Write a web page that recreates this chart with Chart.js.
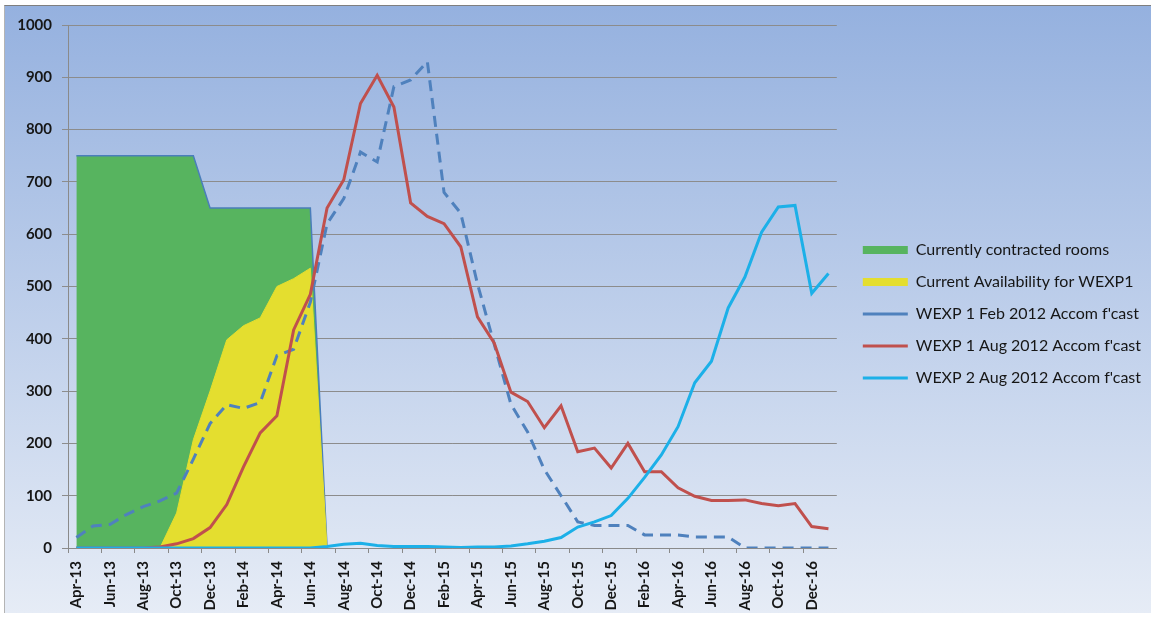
<!DOCTYPE html>
<html>
<head>
<meta charset="utf-8">
<script src="https://cdn.jsdelivr.net/npm/chart.js@4.4.0/dist/chart.umd.min.js"></script>
<style>
    html, body { margin: 0; padding: 0; background: #fff; }
    #frame {
        position: absolute; left: 4px; top: 5px; width: 1147px; height: 607px;
        border-top: 1px solid #7f7f7f; border-left: 1px solid #b4b4b4;
        background: linear-gradient(to bottom, #95b1df 0%, #e6ecf6 100%);
    }
    #wrap { position: absolute; left: 0; top: 0; width: 1151px; height: 619px; }
</style>
</head>
<body>
<div id="frame"></div>
<div id="wrap"><canvas id="accomChart"></canvas></div>
<script>
// Months on the category axis
const months = [
    'Apr-13', 'May-13', 'Jun-13', 'Jul-13', 'Aug-13', 'Sep-13', 'Oct-13', 'Nov-13', 'Dec-13',
    'Jan-14', 'Feb-14', 'Mar-14', 'Apr-14', 'May-14', 'Jun-14', 'Jul-14', 'Aug-14', 'Sep-14',
    'Oct-14', 'Nov-14', 'Dec-14', 'Jan-15', 'Feb-15', 'Mar-15', 'Apr-15', 'May-15', 'Jun-15',
    'Jul-15', 'Aug-15', 'Sep-15', 'Oct-15', 'Nov-15', 'Dec-15', 'Jan-16', 'Feb-16', 'Mar-16',
    'Apr-16', 'May-16', 'Jun-16', 'Jul-16', 'Aug-16', 'Sep-16', 'Oct-16', 'Nov-16', 'Dec-16',
    'Jan-17'
];

// Series values (rooms)
const contractedRooms = [
    750, 750, 750, 750, 750, 750, 750, 750, 650, 650, 650, 650, 650, 650, 650, 0
];
const availabilityWexp1 = [
    null, null, null, null, null, 0, 67, 207, 300, 398, 425, 440, 500, 515, 535, 0
];
const wexp1Feb2012 = [
    20, 42, 45, 64, 79, 90, 105, 170, 238, 274, 267, 278, 368, 380, 470, 620,
    668, 757, 738, 882, 895, 930, 680, 640, 505, 390, 275, 222, 150, 100, 50, 43,
    43, 43, 25, 25, 25, 21, 21, 21, 0, 0, 0, 0, 0, 0
];
const wexp1Aug2012 = [
    0, 0, 0, 0, 0, 2, 8, 18, 39, 83, 155, 220, 253, 417, 485, 650,
    704, 850, 904, 843, 660, 634, 620, 576, 442, 392, 298, 280, 230, 272, 184, 191,
    153, 200, 146, 146, 115, 99, 91, 91, 92, 85, 81, 85, 41, 37
];
const wexp2Aug2012 = [
    0, 0, 0, 0, 0, 0, 0, 0, 0, 0, 0, 0, 0, 0, 0, 3,
    7, 9, 5, 3, 3, 3, 2, 1, 2, 2, 4, 8, 13, 20, 40, 50,
    62, 95, 135, 178, 232, 316, 357, 459, 518, 604, 652, 655, 487, 525
];

const seriesNames = [
    'Currently contracted rooms',
    'Current Availability for WEXP1',
    "WEXP 1 Feb 2012 Accom f'cast",
    "WEXP 1 Aug 2012 Accom f'cast",
    "WEXP 2 Aug 2012 Accom f'cast"
];

// Y axis range
const yMin = 0;
const yMax = 1000;
const yStep = 100;

const tickFont = { family: 'Lato', size: 15, weight: 'bold' };
const legendFont = { family: 'Lato', size: 16 };
const textColor = '#161616';

// space between plot area and legend
const legendGap = 10;

document.addEventListener('DOMContentLoaded', function() {
    const ctx = document.getElementById('accomChart').getContext('2d');

    window.accomChart = new Chart(ctx, {
        type: 'line',
        data: {
            labels: months,
            datasets: [
                {
                    label: seriesNames[0],
                    data: contractedRooms,
                    backgroundColor: '#57b45f',
                    borderColor: '#4a7ebb',
                    borderWidth: 1.5,
                    fill: 'origin',
                    pointStyle: 'rect',
                    order: 4
                },
                {
                    label: seriesNames[1],
                    data: availabilityWexp1,
                    backgroundColor: '#e4de2f',
                    borderColor: '#e4de2f',
                    borderWidth: 1,
                    fill: 'origin',
                    pointStyle: 'rect',
                    order: 3
                },
                {
                    label: seriesNames[2],
                    data: wexp1Feb2012,
                    borderColor: '#4f81bd',
                    backgroundColor: '#4f81bd',
                    borderWidth: 3,
                    borderDash: [11, 7],
                    fill: false,
                    pointStyle: 'line',
                    order: 2
                },
                {
                    label: seriesNames[3],
                    data: wexp1Aug2012,
                    borderColor: '#c0504d',
                    backgroundColor: '#c0504d',
                    borderWidth: 3,
                    fill: false,
                    pointStyle: 'line',
                    order: 1
                },
                {
                    label: seriesNames[4],
                    data: wexp2Aug2012,
                    borderColor: '#1cb0e8',
                    backgroundColor: '#1cb0e8',
                    borderWidth: 3,
                    fill: false,
                    pointStyle: 'line',
                    order: 0
                }
            ]
        },
        options: {
            responsive: true,
            maintainAspectRatio: false,
            animation: false,
            elements: {
                point: { radius: 0, hoverRadius: 0 },
                line: { tension: 0 }
            },
            layout: {
                padding: { top: 9, right: 0, bottom: 0, left: 0 }
            },
            plugins: {
                tooltip: { enabled: false },
                legend: {
                    position: 'right',
                    maxWidth: 400,
                    labels: {
                        usePointStyle: true,
                        pointStyleWidth: 45,
                        boxHeight: 8,
                        padding: 16,
                        color: textColor,
                        font: legendFont,
                        sort: (a, b) => a.datasetIndex - b.datasetIndex,
                        generateLabels: function(chart) {
                            const items = Chart.defaults.plugins.legend.labels.generateLabels(chart);
                            items.forEach(item => {
                                if (item.pointStyle === 'rect') {
                                    item.strokeStyle = item.fillStyle;
                                    item.lineWidth = 0;
                                }
                            });
                            return items;
                        }
                    }
                }
            },
            scales: {
                x: {
                    offset: true,
                    grid: {
                        offset: true,
                        drawOnChartArea: false,
                        tickLength: 5,
                        tickColor: (c) => (c.index % 2 === 0 ? '#8a8a8a' : 'rgba(0,0,0,0)')
                    },
                    border: { color: '#8a8a8a', width: 1 },
                    ticks: {
                        autoSkip: false,
                        minRotation: 90,
                        maxRotation: 90,
                        padding: 8,
                        color: textColor,
                        font: tickFont,
                        callback: function(value, index) {
                            return index % 2 === 0 ? this.getLabelForValue(value) : '';
                        }
                    },
                    afterFit: (scale) => { scale.height = 71; }
                },
                gapTop: {
                    type: 'linear',
                    position: 'top',
                    grid: { display: false },
                    border: { display: false },
                    ticks: { display: false },
                    afterFit: (scale) => { scale.height = 16; }
                },
                y: {
                    min: yMin,
                    max: yMax,
                    grid: {
                        color: '#8c8c8c',
                        tickLength: 6,
                        tickColor: '#8c8c8c'
                    },
                    border: { color: '#8a8a8a', width: 1 },
                    ticks: {
                        stepSize: yStep,
                        padding: 10,
                        color: textColor,
                        font: tickFont,
                        callback: (v) => String(v)
                    },
                    afterFit: (scale) => { scale.width = 68; }
                },
                gap: {
                    type: 'linear',
                    position: 'right',
                    grid: { display: false },
                    border: { display: false },
                    ticks: { display: false },
                    afterFit: (scale) => { scale.width = legendGap; }
                }
            }
        }
    });
});
</script>
</body>
</html>
